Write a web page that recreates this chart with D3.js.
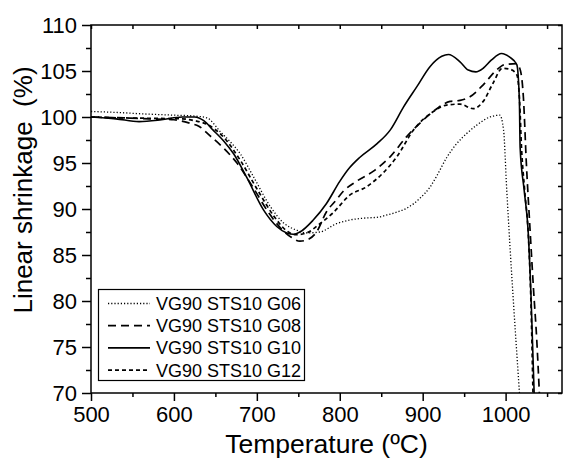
<!DOCTYPE html>
<html>
<head>
<meta charset="utf-8">
<script src="https://cdn.jsdelivr.net/npm/d3@7"></script>
<style>
  body { margin: 0; background: #fff; }
  text { font-family: "Liberation Sans", Arial, sans-serif; fill: #000; }
</style>
</head>
<body>
<div id="chart"></div>
<script>
// temperature (ºC), linear shrinkage (%)
const g06 = [[500,100.6],[530,100.5],[560,100.35],[600,100.2],[625,100.1],[640,99.9],[656,98.4],[668,97.3],[680,96.0],[696,93.5],[716,90.3],[732,88.5],[748,87.7],[760,87.4],[776,87.5],[796,88.4],[812,88.8],[828,89.0],[845,89.1],[857,89.35],[870,89.7],[881,90.1],[897,91.2],[909,92.4],[917,93.6],[929,95.6],[941,97.1],[953,98.2],[965,99.1],[981,100.0],[993,100.2],[997.5,98.6],[1001.4,92],[1016.7,70]];
const g08 = [[500,100],[540,99.9],[570,99.8],[600,99.7],[620,99.3],[630,99.0],[643,98.0],[660,96.6],[676,95.0],[695,92.4],[715,89.5],[730,87.8],[742,86.9],[752,86.5],[762,86.7],[772,87.5],[784,89.7],[795,90.9],[804,91.9],[820,93.0],[842,94.2],[861,95.7],[881,97.9],[901,99.7],[917,100.9],[933,101.7],[945,101.8],[957,102.2],[973,103.5],[989,105.1],[999,105.7],[1013.5,105.8],[1018,105],[1021.4,102.2],[1025,95],[1029.5,87.7],[1033.5,81.5],[1037.6,75.7],[1040.7,70]];
const g10 = [[500,100],[530,99.8],[558,99.5],[585,99.7],[610,100],[625,100],[636,99.6],[647,98.6],[660,97.4],[672,96],[688,93.4],[708,89.9],[724,88.1],[736,87.4],[744,87.25],[752,87.5],[768,88.8],[784,90.6],[800,93.0],[812,94.5],[824,95.6],[845,97.1],[861,98.6],[877,101.1],[893,103.3],[909,105.5],[923,106.6],[931,106.8],[945,106.0],[955,105.1],[964,104.9],[973,105.3],[983,106.2],[995,106.9],[1005,106.5],[1013.5,105.7],[1016.6,101.8],[1017.5,96.7],[1022.3,92.1],[1027.1,87.7],[1030.8,80.1],[1034.4,70]];
const g12 = [[500,100],[540,99.9],[580,99.85],[610,99.8],[625,99.6],[640,99.2],[660,97.8],[680,95.3],[700,92.2],[720,89.3],[735,87.7],[747,87.2],[760,87.4],[776,88.4],[792,89.6],[812,91.5],[832,92.4],[852,93.9],[869,95.7],[889,98.6],[913,100.6],[929,101.3],[945,101.4],[961,100.9],[973,101.7],[985,103.7],[996,105.3],[1005,105.2],[1013.5,104.6],[1017,101.5],[1019,97],[1023,92],[1027.5,87],[1030.5,80],[1033,70]];

const labels = ["VG90 STS10 G06", "VG90 STS10 G08", "VG90 STS10 G10", "VG90 STS10 G12"];
const xTicks = [500, 600, 700, 800, 900, 1000];
const yTicks = [70, 75, 80, 85, 90, 95, 100, 105, 110];

const width = 563;
const height = 459;
const marginTop = 25;
const marginRight = 1;
const marginBottom = 66;
const marginLeft = 91;

const x = d3.scaleLinear()
    .domain([500, 1068])
    .range([marginLeft, width - marginRight]);
const y = d3.scaleLinear()
    .domain([70, 110])
    .range([height - marginBottom, marginTop]);

const svg = d3.select("#chart")
  .append("svg")
    .attr("width", width)
    .attr("height", height);

svg.append("defs").append("clipPath")
    .attr("id", "plot")
  .append("rect")
    .attr("x", marginLeft)
    .attr("y", marginTop)
    .attr("width", width - marginRight - marginLeft)
    .attr("height", height - marginBottom - marginTop);

const x0 = marginLeft, x1 = width - marginRight;
const y0 = height - marginBottom, y1 = marginTop;

// bottom axis, outward ticks
svg.append("g")
    .attr("transform", `translate(0,${y0})`)
    .call(d3.axisBottom(x).tickValues(d3.range(550, 1068, 100)).tickSize(4).tickFormat(""))
    .call(g => g.select(".domain").remove());
svg.append("g")
    .attr("transform", `translate(0,${y0})`)
    .call(d3.axisBottom(x).tickValues(xTicks).tickSize(8).tickPadding(5).tickFormat(d3.format("d")))
    .call(g => g.select(".domain").remove())
    .call(g => g.selectAll("text").attr("font-size", 22).attr("dy", "0.72em"));

// left axis, outward ticks
svg.append("g")
    .attr("transform", `translate(${x0},0)`)
    .call(d3.axisLeft(y).tickValues(d3.range(72.5, 110, 5)).tickSize(5).tickFormat(""))
    .call(g => g.select(".domain").remove());
svg.append("g")
    .attr("transform", `translate(${x0},0)`)
    .call(d3.axisLeft(y).tickValues(yTicks).tickSize(9).tickPadding(5))
    .call(g => g.select(".domain").remove())
    .call(g => g.selectAll("text").attr("font-size", 22));

// top and right axes, small inward ticks
svg.append("g")
    .attr("transform", `translate(0,${y1})`)
    .call(d3.axisBottom(x).tickValues(d3.range(500, 1068, 50)).tickSize(4).tickFormat(""))
    .call(g => g.select(".domain").remove());
svg.append("g")
    .attr("transform", `translate(${x1},0)`)
    .call(d3.axisLeft(y).tickValues(d3.range(70, 110.1, 2.5)).tickSize(4).tickFormat(""))
    .call(g => g.select(".domain").remove());

svg.selectAll(".tick line").attr("stroke", "#000").attr("stroke-width", 1.5);

// frame
svg.append("rect")
    .attr("x", x0)
    .attr("y", y1)
    .attr("width", x1 - x0)
    .attr("height", y0 - y1)
    .attr("fill", "none")
    .attr("stroke", "#000")
    .attr("stroke-width", 1.5);

const line = d3.line()
    .x(d => x(d[0]))
    .y(d => y(d[1]))
    .curve(d3.curveMonotoneX);

const series = [
  {data: g06, dash: "1.2,2", sw: 1.3},
  {data: g08, dash: "8,5", sw: 1.7},
  {data: g10, dash: null, sw: 1.6},
  {data: g12, dash: "4,3", sw: 1.7}
];

svg.append("g")
    .attr("clip-path", "url(#plot)")
  .selectAll("path")
  .data(series)
  .join("path")
    .attr("d", d => line(d.data))
    .attr("fill", "none")
    .attr("stroke", "#000")
    .attr("stroke-width", d => d.sw)
    .attr("stroke-dasharray", d => d.dash);

// legend
const legend = svg.append("g");
legend.append("rect")
    .attr("x", 98.5)
    .attr("y", 289.5)
    .attr("width", 206)
    .attr("height", 91)
    .attr("fill", "#fff")
    .attr("stroke", "#000")
    .attr("stroke-width", 1.2);

const rows = legend.selectAll("g.row")
  .data(series)
  .join("g")
    .attr("class", "row")
    .attr("transform", (d, i) => `translate(0,${303.5 + i * 22.2})`);
rows.append("line")
    .attr("x1", 108)
    .attr("x2", 150)
    .attr("stroke", "#000")
    .attr("stroke-width", d => d.sw)
    .attr("stroke-dasharray", d => d.dash);
rows.append("text")
    .attr("x", 156)
    .attr("dy", "0.36em")
    .attr("font-size", 18)
    .text((d, i) => labels[i]);

// axis titles
svg.append("text")
    .attr("x", (x0 + x1) / 2)
    .attr("y", 453)
    .attr("text-anchor", "middle")
    .attr("font-size", 26.5)
    .text("Temperature (ºC)");

svg.append("text")
    .attr("transform", "translate(32,190) rotate(-90)")
    .attr("text-anchor", "middle")
    .attr("font-size", 26)
    .attr("xml:space", "preserve")
    .style("white-space", "pre")
    .text("Linear shrinkage  (%)");
</script>
</body>
</html>
